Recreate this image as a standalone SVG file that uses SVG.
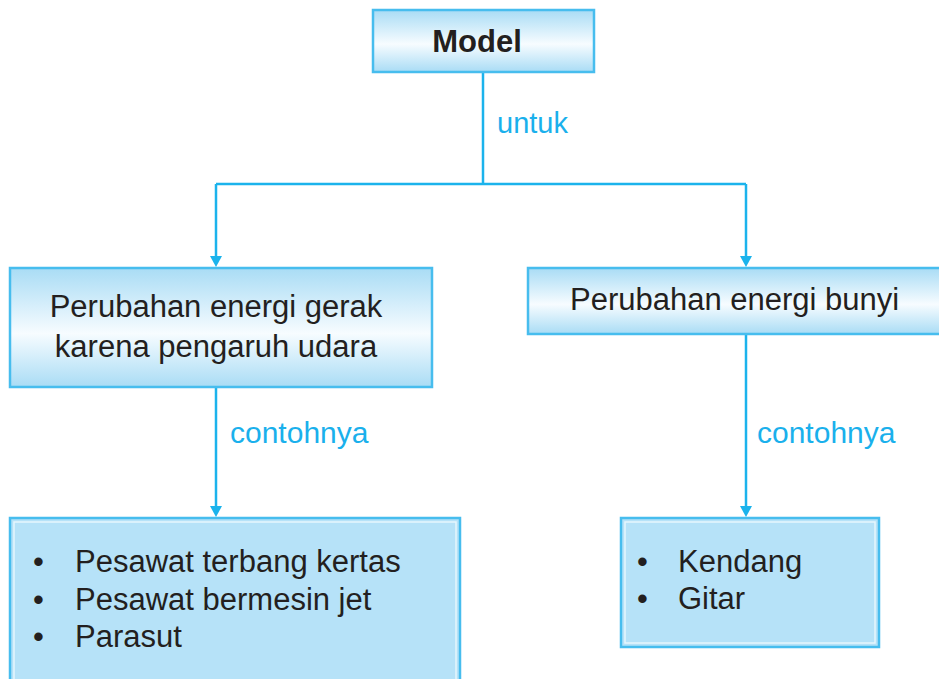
<svg xmlns="http://www.w3.org/2000/svg" width="939" height="679" viewBox="0 0 939 679">
<style>
  .txt { font-family: "Liberation Sans", Arial, sans-serif; fill: #231f20; }
  .lbl { font-family: "Liberation Sans", Arial, sans-serif; fill: #1ab0ec; font-size: 29px; }
  .gbox { fill: url(#grad); stroke: #47bdee; stroke-width: 2.5; }
  .sbox { fill: #b6e2f8; stroke: #47bdee; stroke-width: 2.5; }
  .inner { fill: none; stroke: #e6f6fd; stroke-width: 1.5; }
  .conn { fill: none; stroke: #1bb3ec; stroke-width: 2.5; }
</style>
<defs>
  <linearGradient id="grad" x1="0" y1="0" x2="0" y2="1">
    <stop offset="0" stop-color="#a9dcf5"/>
    <stop offset="0.55" stop-color="#f7fcff"/>
    <stop offset="1" stop-color="#a9dcf5"/>
  </linearGradient>
  <marker id="arr" viewBox="0 0 12 10" refX="6" refY="10" markerWidth="12" markerHeight="10" markerUnits="userSpaceOnUse" orient="auto-start-reverse">
    <path d="M0,0 L12,0 L6,10 Z" fill="#1bb3ec"/>
  </marker>
</defs>
<rect width="939" height="679" fill="#ffffff"/>
<g id="connectors">
  <path class="conn" d="M483,72 V184"/>
  <path class="conn" d="M216,184 H746"/>
  <path class="conn" d="M216,184 V256"/>
  <path class="conn" d="M746,184 V256"/>
  <path d="M210,256 L222,256 L216,267 Z" fill="#1bb3ec"/>
  <path d="M740,256 L752,256 L746,267 Z" fill="#1bb3ec"/>
  <path class="conn" d="M216,387 V506"/>
  <path class="conn" d="M746,334 V506"/>
  <path d="M210,506 L222,506 L216,517 Z" fill="#1bb3ec"/>
  <path d="M740,506 L752,506 L746,517 Z" fill="#1bb3ec"/>
  <text class="lbl" x="497" y="133">untuk</text>
  <text class="lbl" x="230" y="443" style="font-size:30px">contohnya</text>
  <text class="lbl" x="757" y="443" style="font-size:30px">contohnya</text>
</g>
<g id="node-model">
  <rect class="gbox" x="373" y="10" width="221" height="62"/>
  <text class="txt" x="477" y="52" font-size="31" font-weight="bold" text-anchor="middle">Model</text>
</g>
<g id="node-gerak">
  <rect class="gbox" x="10" y="268" width="422" height="119"/>
  <text class="txt" x="216" y="317" font-size="31" text-anchor="middle">Perubahan energi gerak</text>
  <text class="txt" x="216" y="357" font-size="31" text-anchor="middle">karena pengaruh udara</text>
</g>
<g id="node-bunyi">
  <rect class="gbox" x="528" y="268" width="420" height="66"/>
  <text class="txt" x="570" y="310" font-size="31">Perubahan energi bunyi</text>
</g>
<g id="node-contoh-gerak">
  <rect class="sbox" x="10" y="518" width="450" height="175"/>
  <rect class="inner" x="14" y="522" width="442" height="170"/>
  <text class="txt" font-size="31">
    <tspan x="33" y="572">•</tspan><tspan x="75" y="572">Pesawat terbang kertas</tspan>
    <tspan x="33" y="609.5">•</tspan><tspan x="75" y="609.5">Pesawat bermesin jet</tspan>
    <tspan x="33" y="647">•</tspan><tspan x="75" y="647">Parasut</tspan>
  </text>
</g>
<g id="node-contoh-bunyi">
  <rect class="sbox" x="621" y="518" width="258" height="129"/>
  <rect class="inner" x="625" y="522" width="250" height="121"/>
  <text class="txt" font-size="31">
    <tspan x="637" y="572">•</tspan><tspan x="678" y="572">Kendang</tspan>
    <tspan x="637" y="609">•</tspan><tspan x="678" y="609">Gitar</tspan>
  </text>
</g>
</svg>
